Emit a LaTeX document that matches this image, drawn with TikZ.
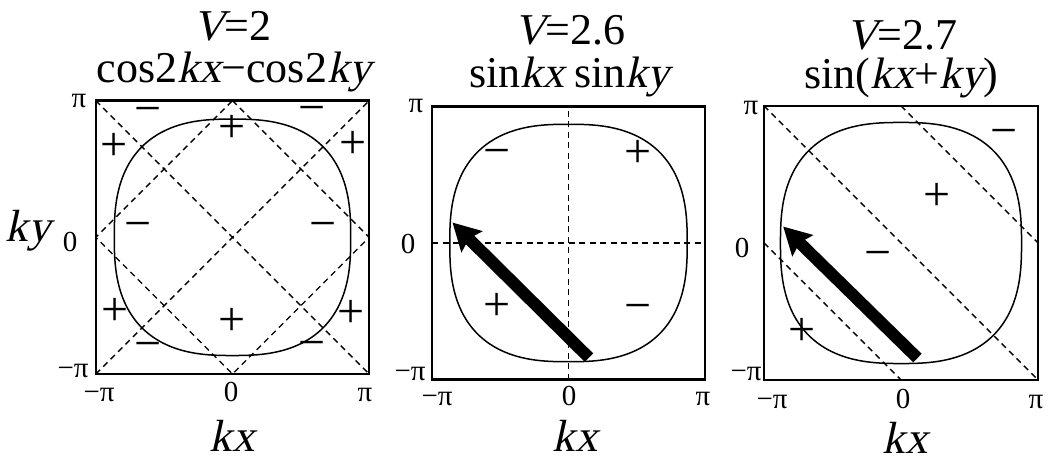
\documentclass[tikz,border=0pt]{standalone}
\usepackage{fontspec}
\setmainfont{Liberation Serif}[ItalicFont={Liberation Serif}, ItalicFeatures={FakeSlant=0.22}]
\usetikzlibrary{arrows.meta}
\begin{document}
\begin{tikzpicture}[
  box/.style={draw=black, line width=2.4pt},
  fs/.style={draw=black, line width=1.5pt},
  nodal/.style={draw=black, line width=1.4pt, dash pattern=on 6pt off 4.5pt},
  sgn/.style={font=\fontsize{48}{48}\selectfont, inner sep=0pt, text height=0.45em, text depth=0pt, anchor=center},
  ttl/.style={font=\fontsize{44}{44}\selectfont, anchor=base, inner sep=0pt},
  ttla/.style={ttl, text depth=0pt},
  ttlb/.style={ttl, text height=0.68em, text depth=0.15em},
  tick/.style={font=\fontsize{29}{29}\selectfont, anchor=base, inner sep=0pt},
  axl/.style={font=\fontsize{45}{45}\selectfont\itshape, anchor=base, inner sep=0pt, text depth=0pt},
  vel/.style={line width=12pt, -{Stealth[length=27pt,width=29pt,inset=4pt]}},
  declare function={sr(\t)=1/((abs(cos(\t))^2.6+abs(sin(\t))^2.6)^(1/2.6));}
]
\useasboundingbox (0,0) rectangle (1051pt,458pt);

% ---------------- Panel 1 ----------------
\begin{scope}[shift={(232.5pt,220.7pt)}, x=136.7pt, y=136.7pt]
  \draw[nodal] (-1,-1) -- (1,1);
  \draw[nodal] (-1,1) -- (1,-1);
  \draw[nodal] (0,1) -- (1,0) -- (0,-1) -- (-1,0) -- cycle;
  \draw[fs] plot[domain=1.25:358.75, samples=144, smooth cycle] ({0.865*sr(\x)*cos(\x)},{0.865*sr(\x)*sin(\x)});
  \draw[box] (-1,-1) rectangle (1,1);
  \node[sgn] (p1s1) at (-0.62,0.84) {−};
  \node[sgn] (p1s2) at (0,0.71) {+};
  \node[sgn] (p1s3) at (-0.87,0.58) {+};
  \node[sgn] (p1s4) at (-0.69,0) {−};
  \node[sgn] (p1s5) at (-0.86,-0.63) {+};
  \node[sgn] (p1s6) at (0,-0.70) {+};
  \node[sgn] (p1s7) at (-0.62,-0.88) {−};
  \node[sgn] (p1s8) at (0.58,0.85) {−};
  \node[sgn] (p1s9) at (0.88,0.59) {+};
  \node[sgn] (p1s10) at (0.66,0) {−};
  \node[sgn] (p1s11) at (0.87,-0.64) {+};
  \node[sgn] (p1s12) at (0.58,-0.87) {−};
\end{scope}
\node[ttla] (t1a) at (232.5pt,417pt) {\textit{V}=2};
\node[ttlb] (t1b) at (234pt,375pt) {cos2\textit{kx}−cos2\textit{ky}};
\node[tick] (l1t) at (79pt,350pt) {π};
\node[tick] (l1m) at (70pt,206pt) {0};
\node[tick] (l1b) at (73pt,81pt) {−π};
\node[tick] (b1l) at (99pt,57pt) {−π};
\node[tick] (b1m) at (231pt,57pt) {0};
\node[tick] (b1r) at (365pt,57pt) {π};
\node[axl] (ky) at (28pt,216pt) {ky};
\node[axl] (kx1) at (232pt,7pt) {kx};

% ---------------- Panel 2 ----------------
\begin{scope}[shift={(568.5pt,215pt)}, x=136.5pt, y=136.5pt]
  \draw[nodal] (0,-1) -- (0,1);
  \draw[nodal] (-1,0) -- (1,0);
  \draw[fs] plot[domain=1.25:358.75, samples=144, smooth cycle] ({0.87*sr(\x)*cos(\x)},{0.87*sr(\x)*sin(\x)});
  \draw[box] (-1,-1) rectangle (1,1);
  \node[sgn] (p2s1) at (-0.52,0.58) {−};
  \node[sgn] (p2s2) at (0.51,0.57) {+};
  \node[sgn] (p2s3) at (-0.52,-0.55) {+};
  \node[sgn] (p2s4) at (0.51,-0.56) {−};
  \coordinate (a2s) at (0.15,-0.84);
  \coordinate (a2e) at (-0.85,0.15);
  \draw[vel] (a2s) -- (a2e);
\end{scope}
\node[ttla] (t2a) at (570pt,413pt) {\textit{V}=2.6};
\node[ttlb] (t2b) at (569.5pt,370pt) {sin\textit{kx}\hspace{0.22em}sin\textit{ky}};
\node[tick] (l2t) at (416pt,345pt) {π};
\node[tick] (l2m) at (408pt,204pt) {0};
\node[tick] (l2b) at (410pt,78pt) {−π};
\node[tick] (b2l) at (437pt,53pt) {−π};
\node[tick] (b2m) at (569pt,53pt) {0};
\node[tick] (b2r) at (703pt,53pt) {π};
\node[axl] (kx2) at (575pt,7pt) {kx};

% ---------------- Panel 3 ----------------
\begin{scope}[shift={(901pt,215pt)}, x=137pt, y=137pt]
  \draw[nodal] (-1,1) -- (1,-1);
  \draw[nodal] (0,1) -- (1,0);
  \draw[nodal] (-1,0) -- (0,-1);
  \draw[fs] plot[domain=1.25:358.75, samples=144, smooth cycle] ({0.88*sr(\x)*cos(\x)},{0.88*sr(\x)*sin(\x)});
  \draw[box] (-1,-1) rectangle (1,1);
  \node[sgn] (p3s1) at (0.75,0.72) {−};
  \node[sgn] (p3s2) at (0.26,0.25) {+};
  \node[sgn] (p3s3) at (-0.17,-0.17) {−};
  \node[sgn] (p3s4) at (-0.72,-0.73) {+};
  \coordinate (a3s) at (0.12,-0.84);
  \coordinate (a3e) at (-0.86,0.12);
  \draw[vel] (a3s) -- (a3e);
\end{scope}
\node[ttla] (t3a) at (902pt,408pt) {\textit{V}=2.7};
\node[ttlb] (t3b) at (901pt,369pt) {sin(\textit{kx}+\textit{ky})};
\node[tick] (l3t) at (751pt,343pt) {π};
\node[tick] (l3m) at (742pt,200pt) {0};
\node[tick] (l3b) at (746pt,78pt) {−π};
\node[tick] (b3l) at (772pt,50pt) {−π};
\node[tick] (b3m) at (903pt,50pt) {0};
\node[tick] (b3r) at (1036pt,50pt) {π};
\node[axl] (kx3) at (905pt,5pt) {kx};
\end{tikzpicture}
\end{document}
